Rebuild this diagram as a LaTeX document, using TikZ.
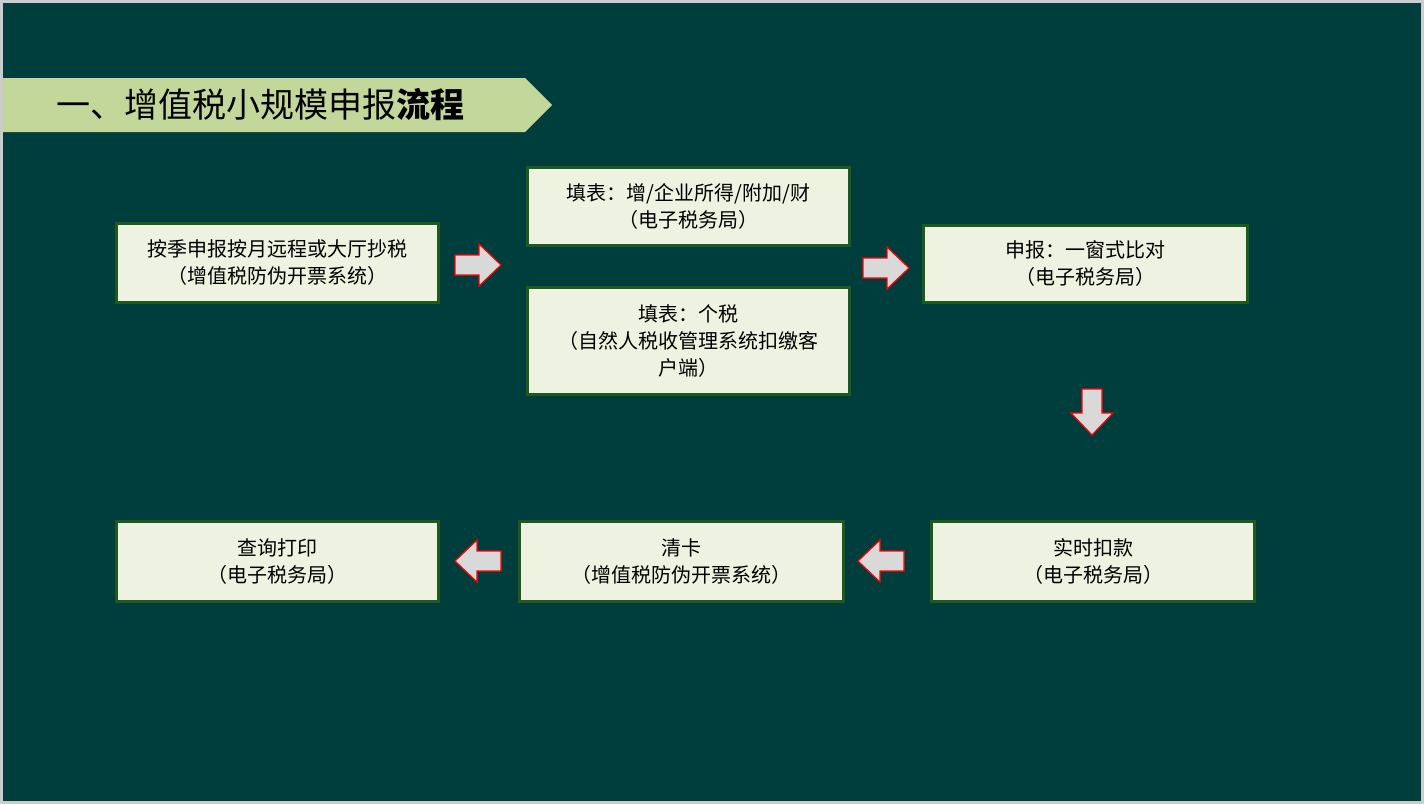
\documentclass[tikz,border=0pt]{standalone}
\usepackage{fontspec}
\setmainfont{Noto Sans CJK SC}
\begin{document}
\begin{tikzpicture}[x=1pt,y=-1pt,
  box/.style={draw=boxline,line width=3pt,fill=boxfill,align=center,font=\fontsize{20}{27}\selectfont,inner sep=0pt},
  blk/.pic={\draw[draw=red,fill=arrgray,line width=1.2pt,line join=miter]
     (-23,-10)--(1,-10)--(1,-21)--(23,0)--(1,21)--(1,10)--(-23,10)--cycle;}]
\definecolor{bg}{HTML}{003D3D}
\definecolor{boxfill}{HTML}{EEF2E0}
\definecolor{boxline}{HTML}{1E5A1E}
\definecolor{arrgray}{HTML}{D9D9D9}
\definecolor{banner}{HTML}{C4D79B}
\useasboundingbox (0,0) rectangle (1424,804);
\fill[gray!40] (0,0) rectangle (1424,804);
\fill[bg] (3,3) rectangle (1421,801);
\fill[banner] (3,78)--(525,78)--(552,105)--(525,132)--(3,132)--cycle;
\node[anchor=west,font=\fontsize{34}{40}\selectfont,inner sep=0pt] (title) at (56,105) {一、增值税小规模申报\textbf{流程}};
\node[box,minimum width=322pt,minimum height=79pt] (b1) at (277.5,263) {按季申报按月远程或大厅抄税\\（增值税防伪开票系统）};
\node[box,minimum width=322pt,minimum height=78pt] (b2) at (688.5,206.5) {填表：增/企业所得/附加/财\\（电子税务局）};
\node[box,minimum width=322pt,minimum height=107pt] (b3) at (688.5,341) {填表：个税\\（自然人税收管理系统扣缴客\\户端）};
\node[box,minimum width=324pt,minimum height=77pt] (b4) at (1085.5,264) {申报：一窗式比对\\（电子税务局）};
\node[box,minimum width=323pt,minimum height=80pt] (b5) at (1093,561.5) {实时扣款\\（电子税务局）};
\node[box,minimum width=324pt,minimum height=80pt] (b6) at (681.5,561.5) {清卡\\（增值税防伪开票系统）};
\node[box,minimum width=322pt,minimum height=80pt] (b7) at (277.5,561.5) {查询打印\\（电子税务局）};
\pic at (478,265) {blk};
\pic at (886,268) {blk};
\pic[rotate=-90] at (1092,412) {blk};
\pic[rotate=180] at (881,561) {blk};
\pic[rotate=180] at (478,561) {blk};
\end{tikzpicture}
\end{document}
